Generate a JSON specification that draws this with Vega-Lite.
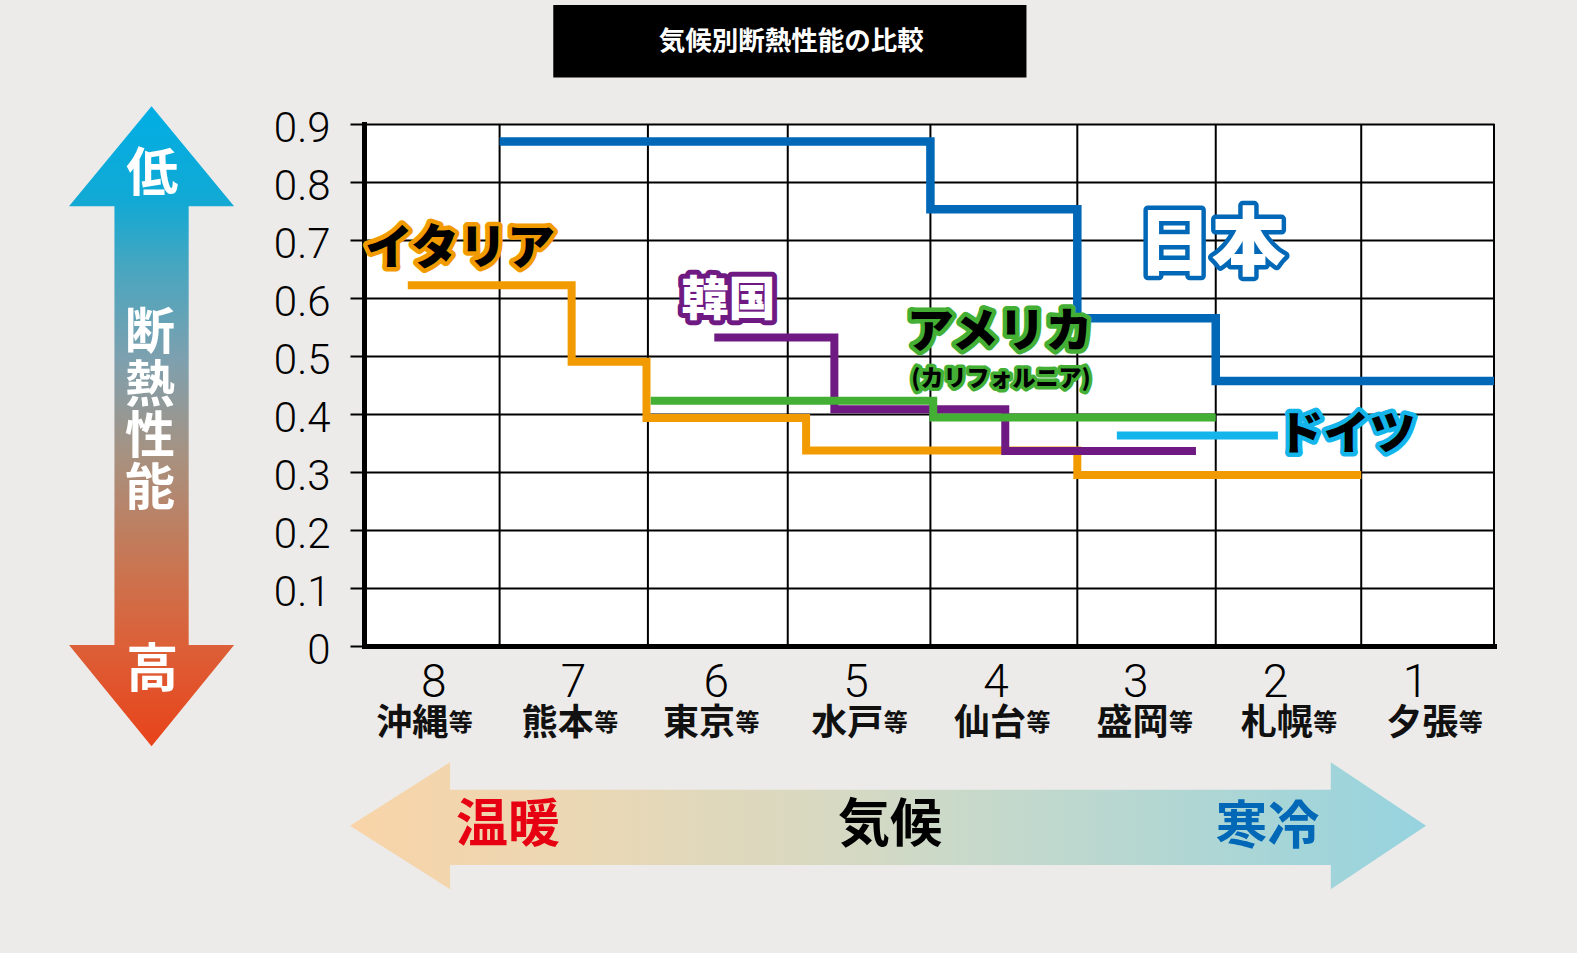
{
  "$schema": "https://vega.github.io/schema/vega-lite/v6.json",
  "width": 1130,
  "height": 522,
  "autosize": {"type": "none"},
  "padding": {"left": 364, "top": 124, "right": 83, "bottom": 307},
  "background": "#ECEBE9",
  "config": {"view": {"fill": "white", "stroke": null}, "font": "Noto Sans CJK JP"},
  "data": {"values": [{}]},
  "datasets": {
    "grid": [{"g": 0.96}, {"g": 2.01}, {"g": 3.0}, {"g": 4.01}, {"g": 5.05}, {"g": 6.03}, {"g": 7.06}, {"g": 8}],
    "zones": [
      {"zone": 8, "city": "沖縄", "pos": 0.43},
      {"zone": 7, "city": "熊本", "pos": 1.46},
      {"zone": 6, "city": "東京", "pos": 2.46},
      {"zone": 5, "city": "水戸", "pos": 3.51},
      {"zone": 4, "city": "仙台", "pos": 4.52},
      {"zone": 3, "city": "盛岡", "pos": 5.53},
      {"zone": 2, "city": "札幌", "pos": 6.55},
      {"zone": 1, "city": "夕張", "pos": 7.58}
    ],
    "lines": [
      {"country": "イタリア", "x": 0.31, "v": 0.622},
      {"country": "イタリア", "x": 1.47, "v": 0.49},
      {"country": "イタリア", "x": 2.0, "v": 0.393},
      {"country": "イタリア", "x": 3.13, "v": 0.337},
      {"country": "イタリア", "x": 5.05, "v": 0.295},
      {"country": "イタリア", "x": 7.06, "v": 0.295},
      {"country": "韓国", "x": 2.48, "v": 0.532},
      {"country": "韓国", "x": 3.33, "v": 0.408},
      {"country": "韓国", "x": 4.54, "v": 0.336},
      {"country": "韓国", "x": 5.89, "v": 0.336},
      {"country": "アメリカ", "x": 2.03, "v": 0.423},
      {"country": "アメリカ", "x": 4.03, "v": 0.394},
      {"country": "アメリカ", "x": 6.03, "v": 0.394},
      {"country": "ドイツ", "x": 5.33, "v": 0.363},
      {"country": "ドイツ", "x": 6.47, "v": 0.363},
      {"country": "日本", "x": 0.96, "v": 0.87},
      {"country": "日本", "x": 4.01, "v": 0.753},
      {"country": "日本", "x": 5.05, "v": 0.565},
      {"country": "日本", "x": 6.03, "v": 0.457},
      {"country": "日本", "x": 8, "v": 0.457}
    ]
  },
  "layer": [
    {
      "data": {"name": "grid"},
      "mark": {"type": "rule", "color": "black", "strokeWidth": 2},
      "encoding": {
        "x": {
          "field": "g", "type": "quantitative",
          "scale": {"domain": [0, 8], "nice": false, "zero": false},
          "axis": {
            "title": null, "orient": "bottom",
            "values": [0.49, 1.48, 2.49, 3.48, 4.47, 5.46, 6.45, 7.44],
            "labelExpr": "'' + (8 - floor(datum.value))",
            "grid": false, "ticks": false, "tickSize": 0,
            "domain": true, "domainColor": "black", "domainWidth": 5, "domainCap": "square",
            "labelFont": "Roboto", "labelFontWeight": 300, "labelFontSize": 46, "labelColor": "black",
            "labelPadding": 36, "labelBaseline": "middle", "labelFlush": false, "labelOverlap": false
          }
        },
        "y": {
          "datum": 0, "type": "quantitative",
          "scale": {"domain": [0, 0.9], "nice": false, "zero": false},
          "axis": {
            "title": null,
            "values": [0, 0.1, 0.2, 0.3, 0.4, 0.5, 0.6, 0.7, 0.8, 0.9],
            "labelExpr": "datum.value == 0 ? '0' : format(datum.value, '.1f')",
            "grid": true, "gridColor": "black", "gridWidth": 2,
            "ticks": true, "tickSize": 14, "tickWidth": 2, "tickColor": "black",
            "domain": true, "domainColor": "black", "domainWidth": 5, "domainCap": "square",
            "labelFont": "Roboto", "labelFontWeight": 300, "labelFontSize": 42, "labelColor": "black",
            "labelPadding": 20, "labelOffset": 4, "labelFlush": false, "labelOverlap": false
          }
        },
        "y2": {"datum": 0.9}
      }
    },
    {
      "mark": {"type": "rect", "color": "black"},
      "encoding": {
        "x": {"datum": 1.34, "type": "quantitative"},
        "x2": {"datum": 4.69},
        "y": {"datum": 1.105, "type": "quantitative"},
        "y2": {"datum": 0.98}
      }
    },
    {
      "mark": {"type": "text", "color": "white", "font": "Noto Sans CJK JP", "fontWeight": "bold", "fontSize": 26.5, "align": "center", "baseline": "middle"},
      "encoding": {
        "x": {"datum": 3.025, "type": "quantitative"},
        "y": {"datum": 1.042, "type": "quantitative"},
        "text": {"value": "気候別断熱性能の比較"}
      }
    },
    {
      "mark": {
        "type": "point",
        "shape": "M0,-1L0.258,-0.6875L0.116,-0.6875L0.116,0.684L0.258,0.684L0,1L-0.258,0.684L-0.116,0.684L-0.116,-0.6875L-0.258,-0.6875Z",
        "filled": true, "size": 409600, "opacity": 1, "strokeWidth": 0,
        "fill": {"gradient": "linear", "x1": 0, "y1": 0, "x2": 0, "y2": 1, "stops": [
          {"offset": 0, "color": "#00AEE4"},
          {"offset": 0.15, "color": "#12A9D4"},
          {"offset": 0.25, "color": "#47A6C0"},
          {"offset": 0.4, "color": "#7FA0AE"},
          {"offset": 0.55, "color": "#A8917F"},
          {"offset": 0.72, "color": "#C97551"},
          {"offset": 0.84, "color": "#DC6038"},
          {"offset": 1, "color": "#E8431A"}
        ]}
      },
      "encoding": {
        "x": {"datum": -1.504, "type": "quantitative"},
        "y": {"datum": 0.379, "type": "quantitative"}
      }
    },
    {
      "mark": {"type": "text", "color": "white", "font": "Noto Sans CJK JP", "fontWeight": "bold", "fontSize": 52, "align": "center", "baseline": "middle"},
      "encoding": {
        "x": {"datum": -1.5, "type": "quantitative"},
        "y": {"datum": 0.812, "type": "quantitative"},
        "text": {"value": "低"}
      }
    },
    {
      "mark": {"type": "text", "color": "white", "font": "Noto Sans CJK JP", "fontWeight": "bold", "fontSize": 50, "align": "center", "baseline": "middle"},
      "encoding": {
        "x": {"datum": -1.515, "type": "quantitative"},
        "y": {"datum": 0.538, "type": "quantitative"},
        "text": {"value": "断"}
      }
    },
    {
      "mark": {"type": "text", "color": "white", "font": "Noto Sans CJK JP", "fontWeight": "bold", "fontSize": 50, "align": "center", "baseline": "middle"},
      "encoding": {
        "x": {"datum": -1.515, "type": "quantitative"},
        "y": {"datum": 0.447, "type": "quantitative"},
        "text": {"value": "熱"}
      }
    },
    {
      "mark": {"type": "text", "color": "white", "font": "Noto Sans CJK JP", "fontWeight": "bold", "fontSize": 50, "align": "center", "baseline": "middle"},
      "encoding": {
        "x": {"datum": -1.515, "type": "quantitative"},
        "y": {"datum": 0.359, "type": "quantitative"},
        "text": {"value": "性"}
      }
    },
    {
      "mark": {"type": "text", "color": "white", "font": "Noto Sans CJK JP", "fontWeight": "bold", "fontSize": 50, "align": "center", "baseline": "middle"},
      "encoding": {
        "x": {"datum": -1.515, "type": "quantitative"},
        "y": {"datum": 0.269, "type": "quantitative"},
        "text": {"value": "能"}
      }
    },
    {
      "mark": {"type": "text", "color": "white", "font": "Noto Sans CJK JP", "fontWeight": "bold", "fontSize": 52, "align": "center", "baseline": "middle"},
      "encoding": {
        "x": {"datum": -1.5, "type": "quantitative"},
        "y": {"datum": -0.043, "type": "quantitative"},
        "text": {"value": "高"}
      }
    },
    {
      "mark": {
        "type": "point",
        "shape": "M-1,0L-0.814,-0.118L-0.814,-0.067L0.823,-0.067L0.823,-0.118L1,0L0.823,0.118L0.823,0.073L-0.814,0.073L-0.814,0.118Z",
        "filled": true, "size": 1157776, "opacity": 1, "strokeWidth": 0,
        "fill": {"gradient": "linear", "x1": 0, "y1": 0, "x2": 1, "y2": 0, "stops": [
          {"offset": 0, "color": "#F9D4A8"},
          {"offset": 0.2, "color": "#EBD7B3"},
          {"offset": 0.45, "color": "#D7D9C2"},
          {"offset": 0.6, "color": "#C5D9CB"},
          {"offset": 0.8, "color": "#AED6D4"},
          {"offset": 1, "color": "#96D3DF"}
        ]}
      },
      "encoding": {
        "x": {"datum": 3.71, "type": "quantitative"},
        "y": {"datum": -0.31, "type": "quantitative"}
      }
    },
    {
      "mark": {"type": "text", "color": "#E60012", "font": "Noto Sans CJK JP", "fontWeight": "bold", "fontSize": 52, "align": "center", "baseline": "middle"},
      "encoding": {
        "x": {"datum": 1.019, "type": "quantitative"},
        "y": {"datum": -0.31, "type": "quantitative"},
        "text": {"value": "温暖"}
      }
    },
    {
      "mark": {"type": "text", "color": "black", "font": "Noto Sans CJK JP", "fontWeight": "bold", "fontSize": 52, "align": "center", "baseline": "middle"},
      "encoding": {
        "x": {"datum": 3.724, "type": "quantitative"},
        "y": {"datum": -0.31, "type": "quantitative"},
        "text": {"value": "気候"}
      }
    },
    {
      "mark": {"type": "text", "color": "#0068B7", "font": "Noto Sans CJK JP", "fontWeight": "bold", "fontSize": 52, "align": "center", "baseline": "middle"},
      "encoding": {
        "x": {"datum": 6.396, "type": "quantitative"},
        "y": {"datum": -0.313, "type": "quantitative"},
        "text": {"value": "寒冷"}
      }
    },
    {
      "data": {"name": "zones"},
      "mark": {"type": "text", "color": "#111111", "font": "Noto Sans CJK JP", "fontWeight": "bold", "fontSize": 36, "align": "center", "baseline": "middle", "dx": -12.5},
      "encoding": {
        "x": {"field": "pos", "type": "quantitative"},
        "y": {"datum": -0.134, "type": "quantitative"},
        "text": {"field": "city"}
      }
    },
    {
      "data": {"name": "zones"},
      "mark": {"type": "text", "color": "#111111", "font": "Noto Sans CJK JP", "fontWeight": "bold", "fontSize": 24, "align": "left", "baseline": "middle", "dx": 24},
      "encoding": {
        "x": {"field": "pos", "type": "quantitative"},
        "y": {"datum": -0.134, "type": "quantitative"},
        "text": {"value": "等"}
      }
    },
    {
      "data": {"name": "lines"},
      "transform": [{"filter": "datum.country == 'イタリア'"}],
      "mark": {"type": "line", "color": "#F29B00", "strokeWidth": 8, "interpolate": "step-after", "strokeCap": "butt", "strokeJoin": "miter"},
      "encoding": {
        "x": {"field": "x", "type": "quantitative"},
        "y": {"field": "v", "type": "quantitative"}
      }
    },
    {
      "data": {"name": "lines"},
      "transform": [{"filter": "datum.country == '韓国'"}],
      "mark": {"type": "line", "color": "#6E1A82", "strokeWidth": 8, "interpolate": "step-after", "strokeCap": "butt", "strokeJoin": "miter"},
      "encoding": {
        "x": {"field": "x", "type": "quantitative"},
        "y": {"field": "v", "type": "quantitative"}
      }
    },
    {
      "data": {"name": "lines"},
      "transform": [{"filter": "datum.country == 'アメリカ'"}],
      "mark": {"type": "line", "color": "#43B035", "strokeWidth": 8, "interpolate": "step-after", "strokeCap": "butt", "strokeJoin": "miter"},
      "encoding": {
        "x": {"field": "x", "type": "quantitative"},
        "y": {"field": "v", "type": "quantitative"}
      }
    },
    {
      "data": {"name": "lines"},
      "transform": [{"filter": "datum.country == 'ドイツ'"}],
      "mark": {"type": "line", "color": "#13B5EA", "strokeWidth": 8, "interpolate": "step-after", "strokeCap": "butt", "strokeJoin": "miter"},
      "encoding": {
        "x": {"field": "x", "type": "quantitative"},
        "y": {"field": "v", "type": "quantitative"}
      }
    },
    {
      "data": {"name": "lines"},
      "transform": [{"filter": "datum.country == '日本'"}],
      "mark": {"type": "line", "color": "#0068B6", "strokeWidth": 8.5, "interpolate": "step-after", "strokeCap": "butt", "strokeJoin": "miter"},
      "encoding": {
        "x": {"field": "x", "type": "quantitative"},
        "y": {"field": "v", "type": "quantitative"}
      }
    },
    {
      "mark": {"type": "text", "font": "Noto Sans CJK JP", "fontWeight": 900, "fontSize": 74, "align": "center", "baseline": "middle", "fill": "#0068B6", "stroke": "#0068B6", "strokeWidth": 9, "strokeJoin": "round"},
      "encoding": {
        "x": {"datum": 6.0, "type": "quantitative"},
        "y": {"datum": 0.688, "type": "quantitative"},
        "text": {"value": "日本"}
      }
    },
    {
      "mark": {"type": "text", "font": "Noto Sans CJK JP", "fontWeight": 900, "fontSize": 74, "align": "center", "baseline": "middle", "fill": "white"},
      "encoding": {
        "x": {"datum": 6.0, "type": "quantitative"},
        "y": {"datum": 0.688, "type": "quantitative"},
        "text": {"value": "日本"}
      }
    },
    {
      "mark": {"type": "text", "font": "Noto Sans CJK JP", "fontWeight": 900, "fontSize": 48, "align": "center", "baseline": "middle", "fill": "#F29B00", "stroke": "#F29B00", "strokeWidth": 9, "strokeJoin": "round"},
      "encoding": {
        "x": {"datum": 0.68, "type": "quantitative"},
        "y": {"datum": 0.683, "type": "quantitative"},
        "text": {"value": "イタリア"}
      }
    },
    {
      "mark": {"type": "text", "font": "Noto Sans CJK JP", "fontWeight": 900, "fontSize": 48, "align": "center", "baseline": "middle", "fill": "black"},
      "encoding": {
        "x": {"datum": 0.68, "type": "quantitative"},
        "y": {"datum": 0.683, "type": "quantitative"},
        "text": {"value": "イタリア"}
      }
    },
    {
      "mark": {"type": "text", "font": "Noto Sans CJK JP", "fontWeight": 900, "fontSize": 47, "align": "center", "baseline": "middle", "fill": "#6E1A82", "stroke": "#6E1A82", "strokeWidth": 10, "strokeJoin": "round"},
      "encoding": {
        "x": {"datum": 2.58, "type": "quantitative"},
        "y": {"datum": 0.594, "type": "quantitative"},
        "text": {"value": "韓国"}
      }
    },
    {
      "mark": {"type": "text", "font": "Noto Sans CJK JP", "fontWeight": 900, "fontSize": 47, "align": "center", "baseline": "middle", "fill": "white"},
      "encoding": {
        "x": {"datum": 2.58, "type": "quantitative"},
        "y": {"datum": 0.594, "type": "quantitative"},
        "text": {"value": "韓国"}
      }
    },
    {
      "mark": {"type": "text", "font": "Noto Sans CJK JP", "fontWeight": 900, "fontSize": 47, "align": "center", "baseline": "middle", "fill": "#43B035", "stroke": "#43B035", "strokeWidth": 9, "strokeJoin": "round"},
      "encoding": {
        "x": {"datum": 4.5, "type": "quantitative"},
        "y": {"datum": 0.54, "type": "quantitative"},
        "text": {"value": "アメリカ"}
      }
    },
    {
      "mark": {"type": "text", "font": "Noto Sans CJK JP", "fontWeight": 900, "fontSize": 47, "align": "center", "baseline": "middle", "fill": "black"},
      "encoding": {
        "x": {"datum": 4.5, "type": "quantitative"},
        "y": {"datum": 0.54, "type": "quantitative"},
        "text": {"value": "アメリカ"}
      }
    },
    {
      "mark": {"type": "text", "font": "Noto Sans CJK JP", "fontWeight": 900, "fontSize": 23, "align": "center", "baseline": "middle", "fill": "#43B035", "stroke": "#43B035", "strokeWidth": 7, "strokeJoin": "round"},
      "encoding": {
        "x": {"datum": 4.51, "type": "quantitative"},
        "y": {"datum": 0.461, "type": "quantitative"},
        "text": {"value": "(カリフォルニア)"}
      }
    },
    {
      "mark": {"type": "text", "font": "Noto Sans CJK JP", "fontWeight": 900, "fontSize": 23, "align": "center", "baseline": "middle", "fill": "black"},
      "encoding": {
        "x": {"datum": 4.51, "type": "quantitative"},
        "y": {"datum": 0.461, "type": "quantitative"},
        "text": {"value": "(カリフォルニア)"}
      }
    },
    {
      "mark": {"type": "text", "font": "Noto Sans CJK JP", "fontWeight": 900, "fontSize": 46, "align": "center", "baseline": "middle", "fill": "#13B5EA", "stroke": "#13B5EA", "strokeWidth": 9, "strokeJoin": "round"},
      "encoding": {
        "x": {"datum": 6.955, "type": "quantitative"},
        "y": {"datum": 0.364, "type": "quantitative"},
        "text": {"value": "ドイツ"}
      }
    },
    {
      "mark": {"type": "text", "font": "Noto Sans CJK JP", "fontWeight": 900, "fontSize": 46, "align": "center", "baseline": "middle", "fill": "black"},
      "encoding": {
        "x": {"datum": 6.955, "type": "quantitative"},
        "y": {"datum": 0.364, "type": "quantitative"},
        "text": {"value": "ドイツ"}
      }
    }
  ]
}
